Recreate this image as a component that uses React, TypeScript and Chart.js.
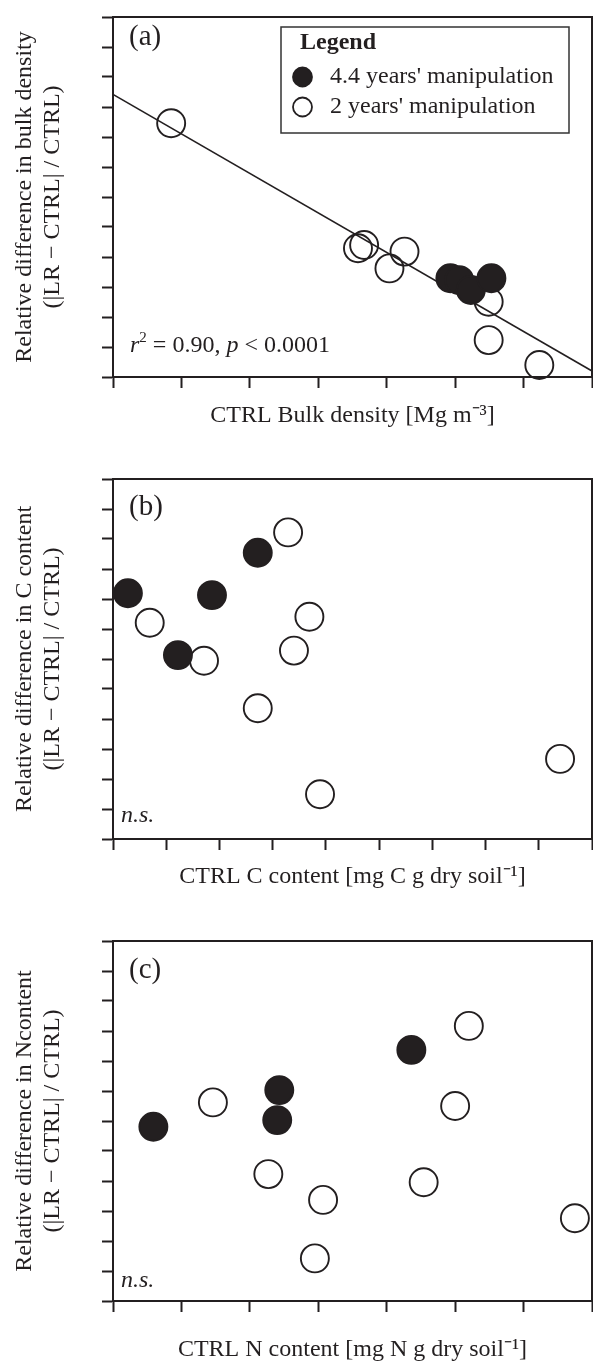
import React, { useEffect, useRef } from "react";
import { Chart, registerables } from "chart.js";

Chart.register(...registerables);

// ---------- DATA (axis units = tick intervals; the reference shows no tick labels) ----------
// Panel (a): CTRL bulk density vs relative difference in bulk density
const bulkX44 = [4.93, 5.06, 5.23, 5.53];
const bulkY44 = [3.29, 3.23, 2.9, 3.29];
const bulkX2 = [0.85, 3.58, 3.67, 4.26, 4.04, 5.49, 5.49, 6.23];
const bulkY2 = [8.46, 4.29, 4.4, 4.18, 3.62, 2.51, 1.23, 0.4];
const bulkFitX = [0, 7];
const bulkFitY = [9.42, 0.2];

// Panel (b): CTRL C content vs relative difference in C content
const carbonX44 = [0.28, 1.86, 1.22, 2.72];
const carbonY44 = [8.19, 8.13, 6.13, 9.54];
const carbonX2 = [0.69, 1.71, 3.29, 3.69, 3.4, 2.72, 3.89, 8.4];
const carbonY2 = [7.21, 5.94, 10.22, 7.41, 6.28, 4.36, 1.49, 2.67];

// Panel (c): CTRL N content vs relative difference in N content
const nitrogenX44 = [0.59, 2.43, 2.4, 4.36];
const nitrogenY44 = [5.81, 7.03, 6.03, 8.37];
const nitrogenX2 = [1.46, 2.27, 3.07, 2.95, 5.2, 5.0, 4.54, 6.75];
const nitrogenY2 = [6.62, 4.23, 3.37, 1.42, 9.17, 6.5, 3.96, 2.76];

// Axis ranges (tick counts)
const xMaxA = 7;
const xMaxB = 9;
const xMaxC = 7;
const yMax = 12;

// Texts
const legendTitle = "Legend";
const series44Label = "4.4 years' manipulation";
const series2Label = "2 years' manipulation";
const yTitleA = ["Relative difference in bulk density", "(|LR \u2212 CTRL| / CTRL)"];
const yTitleB = ["Relative difference in C content", "(|LR \u2212 CTRL| / CTRL)"];
const yTitleC = ["Relative difference in Ncontent", "(|LR \u2212 CTRL| / CTRL)"];
const xTitleA = "CTRL Bulk density [Mg m\u207B\u00B3]";
const xTitleB = "CTRL C content [mg C g dry soil\u207B\u00B9]";
const xTitleC = "CTRL N content [mg N g dry soil\u207B\u00B9]";

// ---------- STYLE / LAYOUT ----------
const INK = "#231f20";
const FONT = "'Liberation Serif', 'Times New Roman', serif";
const W = 593;
const TICK = 11;
const PLOT_LEFT = 113;
const PLOT_RIGHT = 592;
const FS = 24;
const Y_LH = 1.18;
const X_LH = 1.0;

const pts = (xs: number[], ys: number[]) => xs.map((x, i) => ({ x, y: ys[i] }));

const decorPlugin = {
  id: "decor",
  beforeDatasetsDraw(chart: any) {
    const { ctx, chartArea: a } = chart;
    ctx.save();
    ctx.strokeStyle = INK;
    ctx.lineWidth = 2;
    ctx.beginPath();
    ctx.moveTo(a.left, a.top);
    ctx.lineTo(a.right, a.top);
    ctx.lineTo(a.right, a.bottom);
    ctx.stroke();
    ctx.restore();
  },
  afterDraw(chart: any, _a: any, opts: any) {
    const { ctx } = chart;
    const off = opts.canvasTop || 0;
    ctx.save();
    ctx.fillStyle = INK;
    // panel letter
    ctx.font = `29px ${FONT}`;
    ctx.textBaseline = "middle";
    ctx.textAlign = "left";
    ctx.fillText(opts.letter, opts.letterX, opts.letterY - off);
    // note (r2 or n.s.)
    if (opts.note) {
      let x = opts.noteX;
      const base = opts.noteY - off;
      ctx.textBaseline = "alphabetic";
      for (const seg of opts.note) {
        const size = seg.sup ? 15 : FS;
        ctx.font = `${seg.italic ? "italic " : ""}${size}px ${FONT}`;
        const y = seg.sup ? base - 10 : base;
        ctx.fillText(seg.t, x, y);
        x += ctx.measureText(seg.t).width;
      }
    }
    // legend
    if (opts.legend) {
      const L = opts.legend;
      ctx.strokeStyle = "#333";
      ctx.lineWidth = 1.5;
      ctx.strokeRect(L.x1, L.y1 - off, L.x2 - L.x1, L.y2 - L.y1);
      ctx.textBaseline = "middle";
      ctx.font = `bold ${FS}px ${FONT}`;
      ctx.fillText(legendTitle, L.titleX, L.titleY - off);
      ctx.font = `${FS}px ${FONT}`;
      const ds = chart.data.datasets;
      const rows = [
        { d: ds[0], y: L.row1Y },
        { d: ds[1], y: L.row2Y },
      ];
      for (const r of rows) {
        ctx.beginPath();
        ctx.arc(L.markerX, r.y - off, 9.5, 0, Math.PI * 2);
        ctx.fillStyle = r.d.backgroundColor;
        ctx.fill();
        ctx.strokeStyle = INK;
        ctx.lineWidth = 1.8;
        ctx.stroke();
        ctx.fillStyle = INK;
        ctx.fillText(r.d.label, L.textX, r.y - off);
      }
    }
    ctx.restore();
  },
};

type PanelCfg = {
  canvasTop: number;
  canvasHeight: number;
  chartTop: number;
  chartBottom: number;
  xTitleY: number;
  xMax: number;
  filled: { x: number; y: number }[];
  open: { x: number; y: number }[];
  fit?: { x: number; y: number }[];
  yTitle: string[];
  xTitle: string;
  decor: any;
};

function PanelChart({ cfg }: { cfg: PanelCfg }) {
  const ref = useRef<HTMLCanvasElement | null>(null);
  useEffect(() => {
    if (!ref.current) return;
    const bottomEdge = cfg.canvasTop + cfg.canvasHeight;
    const xLh = FS * X_LH;
    const tpBottom = bottomEdge - cfg.xTitleY - xLh / 2;
    const tpTop = bottomEdge - cfg.chartBottom - TICK - xLh - tpBottom;
    const yLh = FS * Y_LH;
    const yPadTop = 24.6 - yLh / 2;
    const yPadBottom = PLOT_LEFT - TICK - 2 * yLh - yPadTop;

    const datasets: any[] = [
      {
        label: series44Label,
        type: "scatter",
        data: cfg.filled,
        backgroundColor: INK,
        borderColor: INK,
        borderWidth: 1.9,
        pointRadius: 14,
        pointHoverRadius: 14,
        clip: false,
      },
      {
        label: series2Label,
        type: "scatter",
        data: cfg.open,
        backgroundColor: "rgba(0,0,0,0)",
        borderColor: INK,
        borderWidth: 1.9,
        pointRadius: 14,
        pointHoverRadius: 14,
        clip: false,
      },
    ];
    if (cfg.fit) {
      datasets.push({
        label: "fit",
        type: "line",
        data: cfg.fit,
        borderColor: INK,
        borderWidth: 1.6,
        pointRadius: 0,
        fill: false,
        tension: 0,
      });
    }

    const axisCommon = {
      type: "linear" as const,
      ticks: { display: false, stepSize: 1 },
      grid: {
        drawOnChartArea: false,
        drawTicks: true,
        tickLength: TICK,
        tickWidth: 2,
        tickColor: INK,
      },
      border: { display: true, color: INK, width: 2 },
    };

    const chart = new Chart(ref.current, {
      type: "scatter",
      data: { datasets },
      options: {
        responsive: false,
        animation: false,
        devicePixelRatio: 1,
        layout: {
          autoPadding: false,
          padding: {
            top: cfg.chartTop - cfg.canvasTop,
            left: 0,
            right: W - PLOT_RIGHT,
            bottom: 0,
          },
        },
        plugins: {
          legend: { display: false },
          tooltip: { enabled: false },
          decor: { ...cfg.decor, canvasTop: cfg.canvasTop },
        } as any,
        scales: {
          x: {
            ...axisCommon,
            position: "bottom",
            min: 0,
            max: cfg.xMax,
            title: {
              display: true,
              text: cfg.xTitle,
              color: INK,
              font: { family: FONT, size: FS, lineHeight: X_LH },
              padding: { top: tpTop, bottom: tpBottom },
            },
          },
          y: {
            ...axisCommon,
            position: "left",
            min: 0,
            max: yMax,
            title: {
              display: true,
              text: cfg.yTitle,
              color: INK,
              font: { family: FONT, size: FS, lineHeight: Y_LH },
              padding: { top: yPadTop, bottom: yPadBottom },
            },
          },
        },
      },
      plugins: [decorPlugin as any],
    });
    return () => chart.destroy();
  }, [cfg]);
  return (
    <canvas
      ref={ref}
      width={W}
      height={cfg.canvasHeight}
      style={{ position: "absolute", left: 0, top: cfg.canvasTop, width: W, height: cfg.canvasHeight }}
    />
  );
}

const panels: PanelCfg[] = [
  {
    canvasTop: 0,
    canvasHeight: 440,
    chartTop: 17,
    chartBottom: 377,
    xTitleY: 416,
    xMax: xMaxA,
    filled: pts(bulkX44, bulkY44),
    open: pts(bulkX2, bulkY2),
    fit: pts(bulkFitX, bulkFitY),
    yTitle: yTitleA,
    xTitle: xTitleA,
    decor: {
      letter: "(a)",
      letterX: 129,
      letterY: 37,
      note: [
        { t: "r", italic: true },
        { t: "2", sup: true },
        { t: " = 0.90, " },
        { t: "p", italic: true },
        { t: " < 0.0001" },
      ],
      noteX: 130,
      noteY: 352,
      legend: {
        x1: 281,
        y1: 27,
        x2: 569,
        y2: 133,
        titleX: 300,
        titleY: 43,
        markerX: 302.5,
        textX: 330,
        row1Y: 77,
        row2Y: 107,
      },
    },
  },
  {
    canvasTop: 440,
    canvasHeight: 460,
    chartTop: 479,
    chartBottom: 839,
    xTitleY: 877,
    xMax: xMaxB,
    filled: pts(carbonX44, carbonY44),
    open: pts(carbonX2, carbonY2),
    yTitle: yTitleB,
    xTitle: xTitleB,
    decor: {
      letter: "(b)",
      letterX: 129,
      letterY: 507,
      note: [{ t: "n.s.", italic: true }],
      noteX: 121,
      noteY: 822,
    },
  },
  {
    canvasTop: 900,
    canvasHeight: 463,
    chartTop: 941,
    chartBottom: 1301,
    xTitleY: 1350,
    xMax: xMaxC,
    filled: pts(nitrogenX44, nitrogenY44),
    open: pts(nitrogenX2, nitrogenY2),
    yTitle: yTitleC,
    xTitle: xTitleC,
    decor: {
      letter: "(c)",
      letterX: 129,
      letterY: 970,
      note: [{ t: "n.s.", italic: true }],
      noteX: 121,
      noteY: 1287,
    },
  },
];

export default function App() {
  return (
    <div
      style={{
        position: "absolute",
        left: 0,
        top: 0,
        width: W,
        height: 1363,
        overflow: "hidden",
        background: "#ffffff",
      }}
    >
      {panels.map((p, i) => (
        <PanelChart key={i} cfg={p} />
      ))}
    </div>
  );
}
